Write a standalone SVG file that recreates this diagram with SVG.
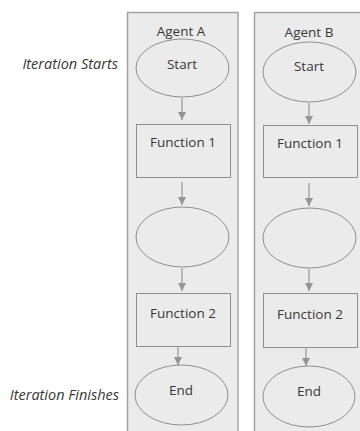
<svg xmlns="http://www.w3.org/2000/svg" width="360" height="431" viewBox="0 0 360 431">
  <style>
    .lane { fill: #ebebec; stroke: #a3a3a3; stroke-width: 1.5; }
    .shape { fill: #ebebec; stroke: #8e8e8e; stroke-width: 1; }
    .label { font-family: "Open Sans", "Liberation Sans", sans-serif; font-size: 13.5px; fill: #383838; text-anchor: middle; }
    .note { font-family: "Open Sans", "Liberation Sans", sans-serif; font-size: 14.5px; font-style: italic; fill: #383838; text-anchor: end; }
    .conn { stroke: #959595; stroke-width: 1.2; fill: none; marker-end: url(#head); }
  </style>
  <defs>
    <marker id="head" viewBox="0 0 8 8" refX="8" refY="4" markerWidth="8" markerHeight="8" markerUnits="userSpaceOnUse" orient="auto">
      <path d="M0,0 L8,4 L0,8 Z" fill="#959595"/>
    </marker>
  </defs>

  <rect width="360" height="431" fill="#ffffff"/>

  <!-- side notes -->
  <text class="note" x="118" y="69">Iteration Starts</text>
  <text class="note" x="119" y="400">Iteration Finishes</text>

  <!-- swimlanes -->
  <g id="lane-a">
    <rect class="lane" x="127.5" y="12.5" width="110.5" height="425"/>
    <text class="label" x="181" y="36">Agent A</text>
  </g>
  <g id="lane-b">
    <rect class="lane" x="254.5" y="12.5" width="110" height="425"/>
    <text class="label" x="309" y="37">Agent B</text>
  </g>

  <!-- connectors -->
  <g id="connectors">
    <path class="conn" d="M182,98 V120"/>
    <path class="conn" d="M182,182 V205"/>
    <path class="conn" d="M182,268 V291"/>
    <path class="conn" d="M178,347 V365"/>
    <path class="conn" d="M309,103 V124"/>
    <path class="conn" d="M309,183 V206"/>
    <path class="conn" d="M309,269 V291"/>
    <path class="conn" d="M306,348 V366"/>
  </g>

  <!-- Agent A flow -->
  <g id="a-start">
    <ellipse class="shape" cx="182.5" cy="68" rx="46.5" ry="29"/>
    <text class="label" x="182" y="69">Start</text>
  </g>
  <g id="a-function-1">
    <rect class="shape" x="136.5" y="124.5" width="94" height="53"/>
    <text class="label" x="183" y="147">Function 1</text>
  </g>
  <g id="a-step">
    <ellipse class="shape" cx="182.5" cy="237" rx="46.5" ry="30"/>
  </g>
  <g id="a-function-2">
    <rect class="shape" x="136.5" y="293.5" width="94" height="53"/>
    <text class="label" x="183" y="318">Function 2</text>
  </g>
  <g id="a-end">
    <ellipse class="shape" cx="181.5" cy="395" rx="46.5" ry="30"/>
    <text class="label" x="181" y="395">End</text>
  </g>

  <!-- Agent B flow -->
  <g id="b-start">
    <ellipse class="shape" cx="309.5" cy="72" rx="46.5" ry="30"/>
    <text class="label" x="309" y="71">Start</text>
  </g>
  <g id="b-function-1">
    <rect class="shape" x="263.5" y="125.5" width="94" height="52"/>
    <text class="label" x="310" y="148">Function 1</text>
  </g>
  <g id="b-step">
    <ellipse class="shape" cx="309.5" cy="238" rx="46.5" ry="30"/>
  </g>
  <g id="b-function-2">
    <rect class="shape" x="263.5" y="293.5" width="94" height="54"/>
    <text class="label" x="310" y="319">Function 2</text>
  </g>
  <g id="b-end">
    <ellipse class="shape" cx="309" cy="396.5" rx="46" ry="30.5"/>
    <text class="label" x="309" y="396">End</text>
  </g>
</svg>
